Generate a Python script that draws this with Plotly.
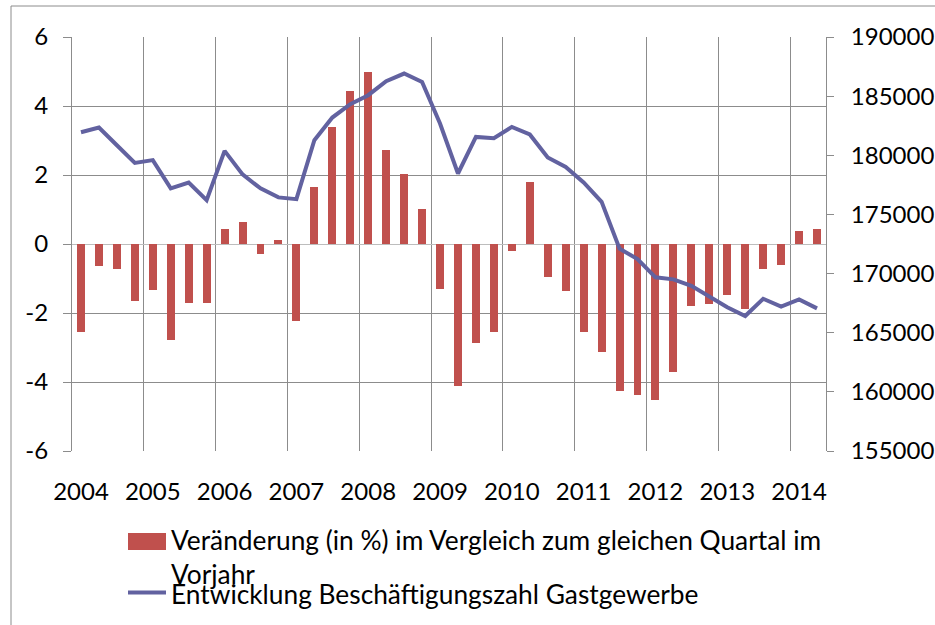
import plotly.graph_objects as go

years = list(range(2004, 2015))
quarters_per_year = 4
n_quarters = 42  # 2004 Q1 .. 2014 Q2

veraenderung = [
    -2.56, -0.65, -0.72, -1.66,
    -1.33, -2.79, -1.72, -1.72,
    0.43, 0.64, -0.29, 0.12,
    -2.24, 1.66, 3.39, 4.43,
    4.99, 2.72, 2.03, 1.01,
    -1.29, -4.12, -2.88, -2.56,
    -0.19, 1.80, -0.97, -1.35,
    -2.56, -3.13, -4.26, -4.38,
    -4.52, -3.71, -1.81, -1.75,
    -1.49, -1.87, -0.71, -0.60,
    0.38, 0.43,
]

beschaeftigte = [
    181950, 182350, 180850, 179360,
    179590, 177200, 177700, 176210,
    180370, 178380, 177200, 176440,
    176290, 181280, 183190, 184320,
    185080, 186260, 186910, 186200,
    182690, 178460, 181550, 181440,
    182400, 181760, 179810, 179020,
    177700, 176060, 172100, 171230,
    169680, 169510, 168970, 168100,
    167150, 166410, 167870, 167200,
    167820, 167060,
]

left_ticks = [6, 4, 2, 0, -2, -4, -6]
left_ticktext = ["6", "4", "2", "0", "-2", "-4", "-6"]
right_ticks = [190000, 185000, 180000, 175000, 170000, 165000, 160000, 155000]
right_ticktext = [str(v) for v in right_ticks]
year_labels = [str(y) for y in years]

bar_name = "Veränderung (in %) im Vergleich zum gleichen Quartal im Vorjahr"
line_name = "Entwicklung Beschäftigungszahl Gastgewerbe"

# quarter centres on a numeric year axis
x_q = [2004 + (i + 0.5) / quarters_per_year for i in range(n_quarters)]
label_pos = [y + 0.5 / quarters_per_year for y in years]

BAR_COLOR = "#C0504D"
LINE_COLOR = "#6262A0"
GRID = "#8C8C8C"
FONT = "Lato"
AX_SIZE = 24
LEG_SIZE = 26.3

fig = go.Figure()
fig.add_trace(go.Bar(
    x=x_q, y=veraenderung, name=bar_name, width=0.111,
    marker=dict(color=BAR_COLOR, line=dict(width=0)), yaxis="y",
    showlegend=False,
))
fig.add_trace(go.Scatter(
    x=x_q, y=beschaeftigte, name=line_name, mode="lines",
    line=dict(color=LINE_COLOR, width=4), yaxis="y2", showlegend=False,
))

W, H = 935, 625
L, R, T, B = 72, 109, 37, 174
pw, ph = W - L - R, H - T - B


def px(x):
    return (x - L) / pw


def py(y):
    return (H - B - y) / ph


fig.update_layout(
    width=W, height=H, autosize=False,
    margin=dict(l=L, r=R, t=T, b=B, pad=0, autoexpand=False),
    paper_bgcolor="white", plot_bgcolor="white",
    font=dict(family=FONT, size=AX_SIZE, color="black"),
    bargap=0,
    xaxis=dict(
        range=[2004, 2014.5], tickmode="array", tickvals=label_pos,
        ticktext=year_labels, showgrid=False, zeroline=False, automargin=False,
        showline=False, ticks="", ticklabelstandoff=24,
        minor=dict(tickmode="array", tickvals=years, showgrid=True,
                   gridcolor=GRID, gridwidth=1, ticks=""),
        tickfont=dict(size=AX_SIZE),
    ),
    yaxis=dict(
        range=[-6, 6], tickmode="array", tickvals=left_ticks, automargin=False,
        ticktext=left_ticktext, showgrid=True, gridcolor=GRID, gridwidth=1,
        zeroline=True, zerolinecolor="#BDBDBD", zerolinewidth=1,
        showline=True, linecolor=GRID, linewidth=1,
        ticks="outside", ticklen=8, tickcolor=GRID, ticklabelstandoff=10,
        tickfont=dict(size=AX_SIZE),
    ),
    yaxis2=dict(
        range=[155000, 190000], tickmode="array", tickvals=right_ticks,
        ticktext=right_ticktext, automargin=False,
        overlaying="y", side="right", showgrid=False, zeroline=False,
        showline=True, linecolor=GRID, linewidth=1,
        ticks="outside", ticklen=7, tickcolor=GRID, ticklabelstandoff=12,
        tickfont=dict(size=AX_SIZE),
    ),
    shapes=[
        # outer chart frame (cropped at right/bottom)
        dict(type="rect", xref="paper", yref="paper",
             x0=px(11), x1=px(960), y0=py(650), y1=py(6),
             line=dict(color=GRID, width=1), fillcolor="rgba(0,0,0,0)",
             layer="below"),
        # legend symbols
        dict(type="rect", xref="paper", yref="paper",
             x0=px(128), x1=px(166), y0=py(550), y1=py(533),
             line=dict(width=0), fillcolor=BAR_COLOR),
        dict(type="line", xref="paper", yref="paper",
             x0=px(128), x1=px(166), y0=py(592.5), y1=py(592.5),
             line=dict(color=LINE_COLOR, width=4)),
    ],
    annotations=[
        dict(xref="paper", yref="paper", x=px(169), y=py(557),
             xanchor="left", yanchor="middle", showarrow=False, align="left",
             text="Veränderung (in %) im Vergleich zum gleichen Quartal im<br>Vorjahr",
             font=dict(size=LEG_SIZE, family=FONT)),
        dict(xref="paper", yref="paper", x=px(169), y=py(594),
             xanchor="left", yanchor="middle", showarrow=False, align="left",
             text=line_name, font=dict(size=LEG_SIZE, family=FONT)),
    ],
)

fig.write_html("out.html", config={"displayModeBar": False},
               post_script="document.body.style.margin='0';")
